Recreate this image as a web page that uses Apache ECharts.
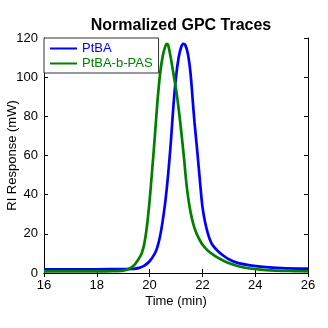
<!DOCTYPE html>
<html>
<head>
<meta charset="utf-8">
<script src="https://cdn.jsdelivr.net/npm/echarts@6/dist/echarts.min.js"></script>
<style>html,body{margin:0;padding:0;background:#fff}#c{width:328px;height:328px}</style>
</head>
<body>
<div id="c"></div>
<script>
var titleText = 'Normalized GPC Traces';
var xName = 'Time (min)';
var yName = 'RI Response (mW)';
var seriesNames = ['PtBA', 'PtBA-b-PAS'];

var ptbaTime = [16, 17, 18, 19, 19.4, 19.6, 19.8, 20.0, 20.2, 20.3, 20.4, 20.5, 20.6, 20.7, 20.8, 20.9, 21.0, 21.1, 21.2, 21.28, 21.35, 21.45, 21.55, 21.64, 21.7, 21.8, 21.9, 22.0, 22.1, 22.2, 22.3, 22.4, 22.6, 22.8, 23.0, 23.3, 23.8, 24.3, 25, 26];
var ptbaSignal = [1.9, 1.9, 1.9, 2.0, 2.1, 2.6, 3.8, 6, 10, 13.5, 19, 27, 37, 50, 66, 85, 100, 110, 115.5, 117, 116.5, 112, 102, 87, 77, 63, 48, 34, 26, 20.5, 16.5, 14, 11, 8.8, 7, 5.3, 3.9, 3.1, 2.5, 2.2];

var pasTime = [16, 17, 18, 18.6, 19.0, 19.2, 19.4, 19.6, 19.7, 19.8, 19.9, 20.0, 20.1, 20.2, 20.3, 20.4, 20.5, 20.6, 20.65, 20.7, 20.8, 20.9, 21.0, 21.1, 21.2, 21.3, 21.4, 21.5, 21.6, 21.7, 21.8, 22.0, 22.2, 22.5, 22.8, 23.1, 23.4, 23.8, 24.2, 24.6, 25.0, 25.5, 26];
var pasSignal = [0.8, 0.8, 0.8, 0.9, 1.2, 2.0, 3.8, 7.5, 10, 15, 24, 37, 53, 70, 88, 102, 111, 116, 117, 116.5, 110, 102, 94, 84, 72, 59, 45, 35, 28, 23, 19.5, 14.5, 11.5, 8.5, 6.3, 4.6, 3.3, 2.3, 1.7, 1.3, 1.1, 0.95, 0.85];

var colors = ['#0000ff', '#008000'];

function pairs(t, v) { return t.map(function (x, i) { return [x, v[i]]; }); }

var font = 'Arial, "Liberation Sans", sans-serif';
var chart = echarts.init(document.getElementById('c'), null, {renderer: 'canvas'});
var axisCommon = {
  axisLine: {show: true, lineStyle: {color: '#000', width: 1}},
  axisTick: {show: true, inside: true, length: 4, lineStyle: {color: '#000'}},
  splitLine: {show: false}
};
chart.setOption({
  animation: false,
  backgroundColor: '#fff',
  title: {
    text: titleText, left: 176, top: 13, textAlign: 'center',
    textStyle: {fontFamily: font, fontSize: 16, fontWeight: 'bold', color: '#000'}
  },
  legend: {
    orient: 'vertical', left: 44, top: 38,
    backgroundColor: '#fff', borderColor: '#333', borderWidth: 1,
    padding: [4, 6, 3, 5], itemGap: 2, itemWidth: 27, itemHeight: 14,
    itemStyle: {opacity: 0},
    textStyle: {fontFamily: font, fontSize: 13},
    data: [
      {name: seriesNames[0], textStyle: {color: colors[0]}},
      {name: seriesNames[1], textStyle: {color: colors[1]}}
    ]
  },
  grid: {left: 44, right: 20, top: 38, bottom: 55, containLabel: false, outerBoundsMode: 'none'},
  xAxis: [
    Object.assign({}, axisCommon, {
      type: 'value', min: 16, max: 26, interval: 2, position: 'bottom',
      name: xName, nameLocation: 'middle', nameGap: 22, nameMoveOverlap: false,
      nameTextStyle: {fontFamily: font, fontSize: 13, color: '#000'},
      axisLabel: {fontFamily: font, fontSize: 13, color: '#000', margin: 6}
    }),
    Object.assign({}, axisCommon, {
      type: 'value', min: 16, max: 26, interval: 2, position: 'top',
      axisLabel: {show: false}
    })
  ],
  yAxis: [
    Object.assign({}, axisCommon, {
      type: 'value', min: 0, max: 120, interval: 20, position: 'left',
      name: yName, nameLocation: 'middle', nameGap: 25, nameMoveOverlap: false,
      nameTextStyle: {fontFamily: font, fontSize: 13, color: '#000'},
      axisLabel: {fontFamily: font, fontSize: 13, color: '#000', margin: 6}
    }),
    Object.assign({}, axisCommon, {
      type: 'value', min: 0, max: 120, interval: 20, position: 'right',
      axisLabel: {show: false}
    })
  ],
  series: [
    {
      name: seriesNames[0], type: 'line', xAxisIndex: 0, yAxisIndex: 0,
      data: pairs(ptbaTime, ptbaSignal), symbol: 'none', smooth: 0.3,
      lineStyle: {color: colors[0], width: 2.7}, itemStyle: {color: colors[0]}, z: 2
    },
    {
      name: seriesNames[1], type: 'line', xAxisIndex: 0, yAxisIndex: 0,
      data: pairs(pasTime, pasSignal), symbol: 'none', smooth: 0.3,
      lineStyle: {color: colors[1], width: 2.7}, itemStyle: {color: colors[1]}, z: 3
    }
  ]
});
</script>
</body>
</html>
